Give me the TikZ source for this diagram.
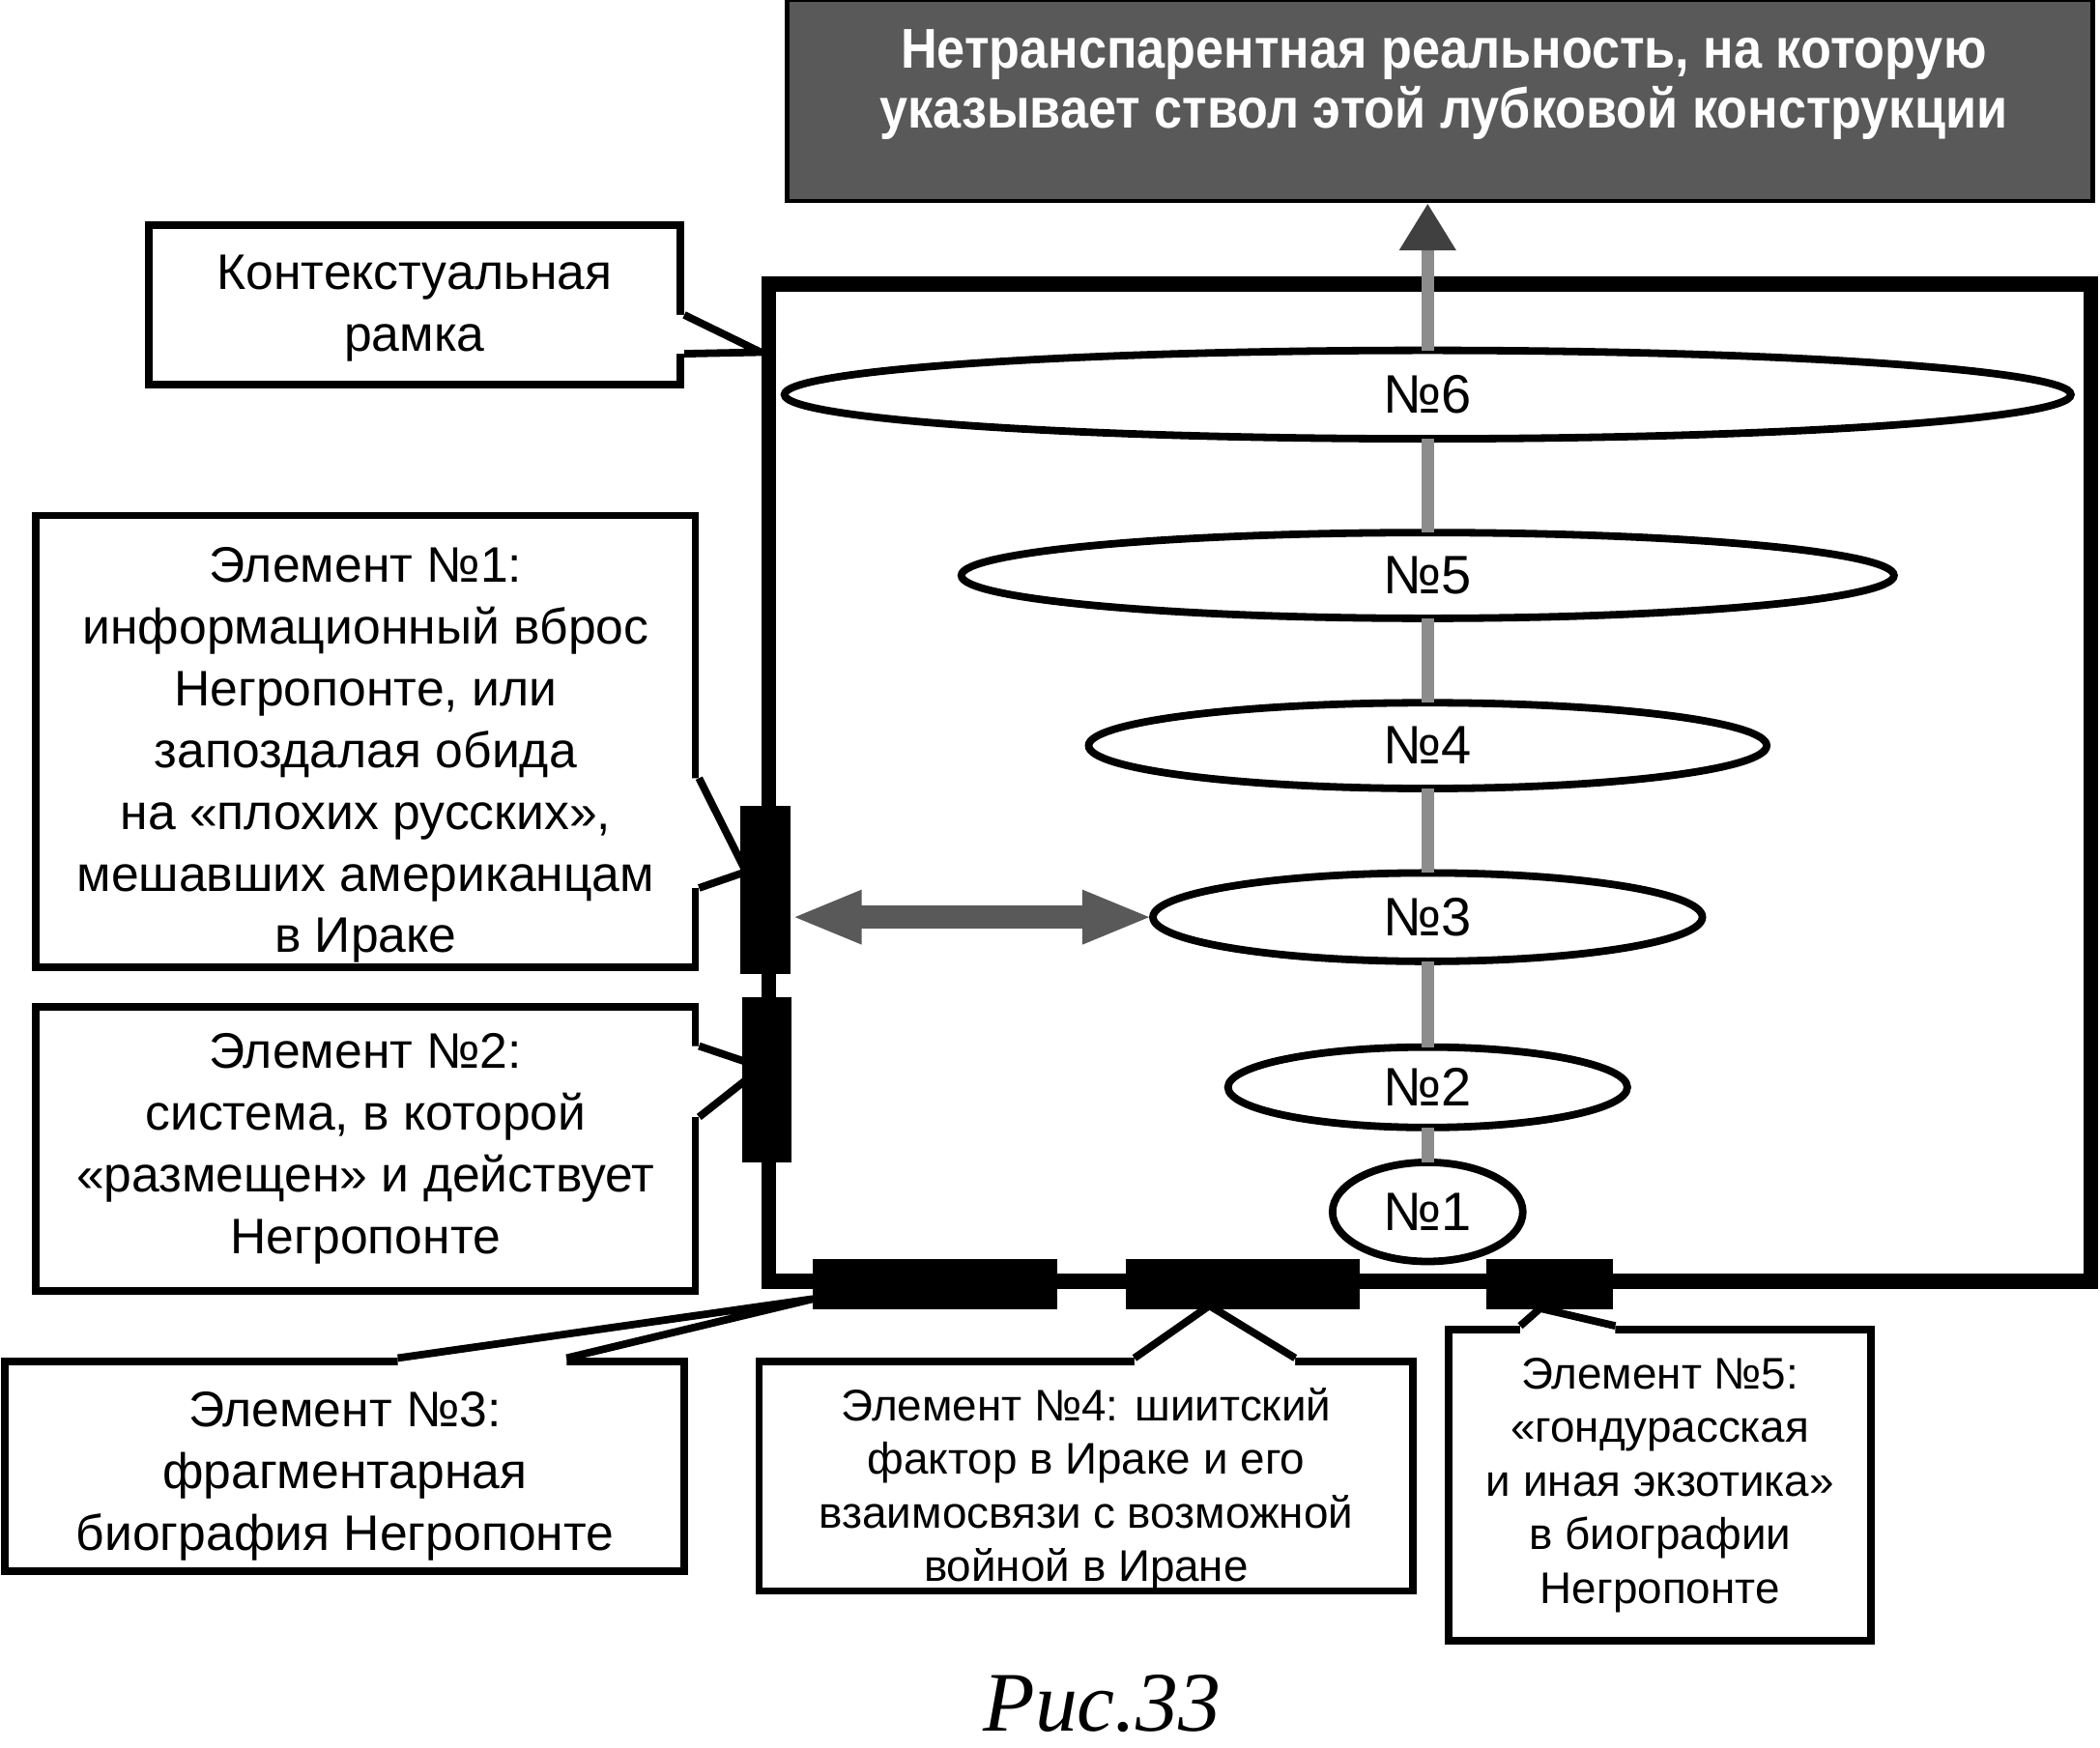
\documentclass[tikz,border=0pt]{standalone}
\usepackage{fontspec}
\setmainfont{Liberation Sans}
\newfontfamily\titlefont[FakeStretch=0.9]{Liberation Sans}
\newfontfamily\capfont{Liberation Serif}
\usetikzlibrary{arrows.meta, shapes.geometric, calc, positioning}

\tikzset{
	box/.style={draw, line width=1.6pt, fill=white, align=center, inner sep=0pt,
		font=\fontsize{10.6}{13.1}\selectfont},
	smallbox/.style={box, font=\fontsize{9.4}{11.4}\selectfont},
	oval/.style={ellipse, draw, line width=1.6pt, fill=white, inner sep=0pt, outer sep=0pt,
		font=\fontsize{11.5}{13}\selectfont},
	bar/.style={fill=black, inner sep=0pt},
	trunk/.style={line width=2.6pt, black!45},
	frame/.style={line width=3.2pt},
	ptr/.style={line width=1.6pt, line join=miter},
	dblarrow/.style={line width=4.8pt, black!65,
		{Triangle[length=15pt, width=10.4pt]}-{Triangle[length=15pt, width=10.4pt]}}
}

% pointer of a callout: base point, tip, base point, shift into the box
\newcommand\callptr[4]{%
	\fill[white] (#1) -- (#2) -- (#3) -- ($(#3)+#4$) -- ($(#1)+#4$) -- cycle;
	\draw[ptr] (#1) -- (#2) -- (#3);}

\begin{document}
\begin{tikzpicture}[x=0.01cm, y=-0.01cm]
	\useasboundingbox (0,0) rectangle (1568,1305);

	% title
	\node[draw, line width=1pt, fill=black!65, minimum width=9.74cm, minimum height=1.5cm] (title) at (1075,75) {};
	\node[text=white, align=center, font=\titlefont\bfseries\fontsize{11.9}{12.8}\selectfont] (titletxt) at (1078,63)
		{Нетранспарентная реальность, на которую\\указывает ствол этой лубковой конструкции};

	% callouts
	\node[box, minimum width=3.97cm, minimum height=1.19cm] (ctx) at (309.5,227.5) {\rule{0pt}{9pt}Контекстуальная\\рамка};
	\node[box, minimum width=4.92cm, minimum height=3.37cm] (el1) at (273,553.5)
		{\rule{0pt}{13.4pt}Элемент №1:\\информационный вброс\\Негропонте, или\\запоздалая обида\\на «плохих русских»,\\мешавших американцам\\в Ираке};
	\node[box, minimum width=4.92cm, minimum height=2.12cm] (el2) at (273,858)
		{Элемент №2:\\система, в которой\\«размещен» и действует\\Негропонте};
	\node[box, minimum width=5.07cm, minimum height=1.56cm] (el3) at (257.5,1095)
		{\rule{0pt}{11.7pt}Элемент №3:\\фрагментарная\\биография Негропонте};
	\node[smallbox, minimum width=4.88cm, minimum height=1.71cm] (el4) at (811,1102.5)
		{\rule{0pt}{12.5pt}Элемент №4: шиитский\\фактор в Ираке и его\\взаимосвязи с возможной\\войной в Иране};
	\node[smallbox, minimum width=3.15cm, minimum height=2.32cm] (el5) at (1239.5,1109)
		{Элемент №5:\\«гондурасская\\и иная экзотика»\\в биографии\\Негропонте};

	% where the pointers start and end
	\coordinate (ctxa) at ($(ctx.north east)+(0,70)$);
	\coordinate (ctxb) at ($(ctx.north east)+(0,99)$);
	\coordinate (el1a) at ($(el1.north east)+(0,199)$);
	\coordinate (el1b) at ($(el1.north east)+(0,281)$);
	\coordinate (el2a) at ($(el2.north east)+(0,32)$);
	\coordinate (el2b) at ($(el2.north east)+(0,85)$);
	\coordinate (el3a) at ($(el3.north west)+(296,0)$);
	\coordinate (el3b) at ($(el3.north west)+(422,0)$);
	\coordinate (el4a) at ($(el4.north west)+(283,0)$);
	\coordinate (el4b) at ($(el4.north west)+(403,0)$);
	\coordinate (el5a) at ($(el5.north west)+(56,0)$);
	\coordinate (el5b) at ($(el5.north west)+(127,0)$);
	\coordinate (tctx) at (568,263);
	\coordinate (tel1) at (557,651);
	\coordinate (tel2) at (569,797);
	\coordinate (tel3) at (607,970);
	\coordinate (tel4) at (903,975);
	\coordinate (tel5) at (1150,977);

	\callptr{ctxa}{tctx}{ctxb}{(-8,0)}
	\callptr{el1a}{tel1}{el1b}{(-8,0)}
	\callptr{el2a}{tel2}{el2b}{(-8,0)}
	\callptr{el3a}{tel3}{el3b}{(0,8)}
	\callptr{el4a}{tel4}{el4b}{(0,8)}
	\callptr{el5a}{tel5}{el5b}{(0,8)}

	% context frame with its elements
	\draw[frame] (574,212) rectangle (1561,957);
	\node[bar, minimum width=0.37cm, minimum height=1.25cm] (b1) at (571.5,664.5) {};
	\node[bar, minimum width=0.37cm, minimum height=1.23cm] (b2) at (572.5,806.5) {};
	\node[bar, minimum width=1.82cm, minimum height=0.38cm] (b3) at (698,959) {};
	\node[bar, minimum width=1.74cm, minimum height=0.38cm] (b4) at (928,959) {};
	\node[bar, minimum width=0.94cm, minimum height=0.38cm] (b5) at (1157,959) {};

	% the trunk
	\node[oval, minimum width=1.42cm, minimum height=0.74cm] (e1) at (1066,905) {№1};
	\node[oval, minimum width=2.98cm, minimum height=0.60cm] (e2) [above=0.26cm of e1] {№2};
	\node[oval, minimum width=4.10cm, minimum height=0.66cm] (e3) [above=0.64cm of e2] {№3};
	\node[oval, minimum width=5.06cm, minimum height=0.64cm] (e4) [above=0.63cm of e3] {№4};
	\node[oval, minimum width=6.96cm, minimum height=0.64cm] (e5) [above=0.63cm of e4] {№5};
	\node[oval, minimum width=9.60cm, minimum height=0.66cm] (e6) [above=0.70cm of e5] {№6};

	\foreach \a/\b in {e1/e2, e2/e3, e3/e4, e4/e5, e5/e6}
		\draw[trunk] (\a.north) -- (\b.south);
	\draw[trunk, -{Triangle[length=10pt, width=11.4pt, color=black!75]}] (e6.north) -- (e6.north |- title.south);

	\draw[dblarrow] (b1.east |- e3.west) -- (e3.west);

	\node[font=\capfont\itshape\fontsize{18}{20}\selectfont] (caption) at (823,1272) {Рис.33};
\end{tikzpicture}
\end{document}
